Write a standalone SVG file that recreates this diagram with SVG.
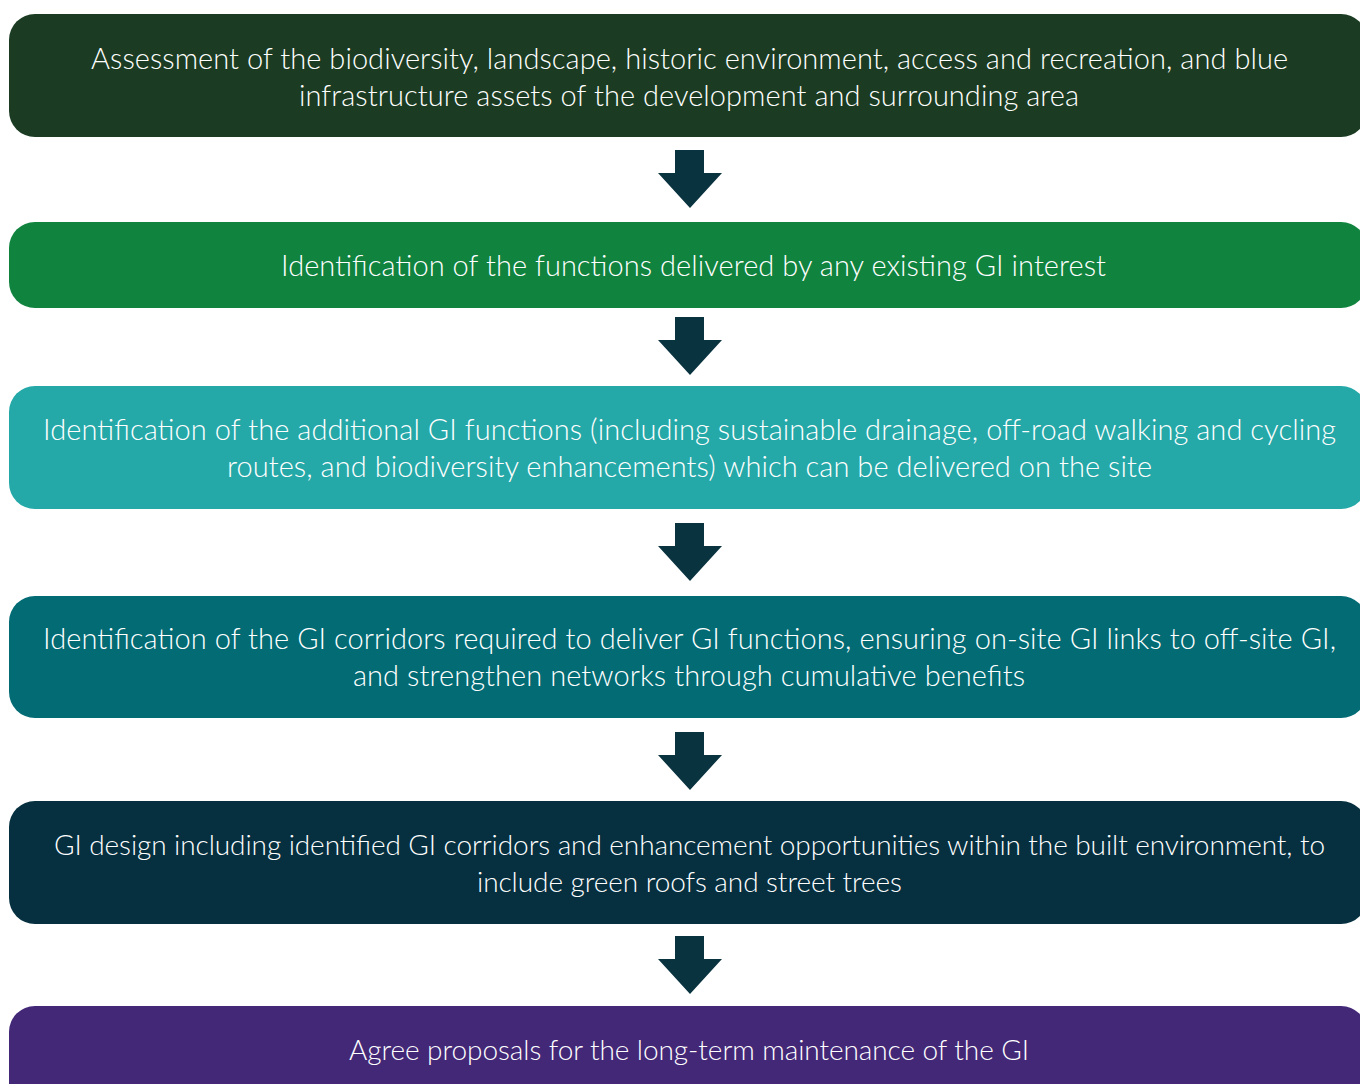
<svg xmlns="http://www.w3.org/2000/svg" width="1360" height="1084" viewBox="0 0 1360 1084">
<style>
.t{font-family:Lato,"Open Sans","Liberation Sans",sans-serif;font-weight:300;font-size:29px;fill:#ffffff;text-anchor:middle}
.s{font-size:28px}
.a{fill:#0a3340}
</style>
<rect width="1360" height="1084" fill="#ffffff"/>
<g id="connectors">
<path class="a" d="M675,150 H704 V173 H722 L690,208 L658,173 H675 Z"/>
<path class="a" d="M675,317 H704 V340 H722 L690,375 L658,340 H675 Z"/>
<path class="a" d="M675,523 H704 V546 H722 L690,581 L658,546 H675 Z"/>
<path class="a" d="M675,732 H704 V755 H722 L690,790 L658,755 H675 Z"/>
<path class="a" d="M675,936 H704 V959 H722 L690,994 L658,959 H675 Z"/>
</g>
<g id="node1">
<rect x="9" y="14" width="1358" height="123" rx="26" fill="#1b3c22"/>
<text class="t" x="689.5" y="69" textLength="1197" lengthAdjust="spacing">Assessment of the biodiversity, landscape, historic environment, access and recreation, and blue</text>
<text class="t" x="689" y="106" textLength="780" lengthAdjust="spacing">infrastructure assets of the development and surrounding area</text>
</g>
<g id="node2">
<rect x="9" y="222" width="1358" height="86" rx="26" fill="#10833f"/>
<text class="t" x="693.5" y="276" textLength="825" lengthAdjust="spacing">Identification of the functions delivered by any existing GI interest</text>
</g>
<g id="node3">
<rect x="9" y="386" width="1358" height="123" rx="26" fill="#25a8a8"/>
<text class="t" x="689.5" y="440" textLength="1293" lengthAdjust="spacing">Identification of the additional GI functions (including sustainable drainage, off-road walking and cycling</text>
<text class="t" x="689.5" y="477" textLength="925" lengthAdjust="spacing">routes, and biodiversity enhancements) which can be delivered on the site</text>
</g>
<g id="node4">
<rect x="9" y="596" width="1358" height="122" rx="26" fill="#026b74"/>
<text class="t" x="689.5" y="649" textLength="1293" lengthAdjust="spacing">Identification of the GI corridors required to deliver GI functions, ensuring on-site GI links to off-site GI,</text>
<text class="t" x="689" y="686" textLength="672" lengthAdjust="spacing">and strengthen networks through cumulative benefits</text>
</g>
<g id="node5">
<rect x="9" y="801" width="1358" height="123" rx="26" fill="#063040"/>
<text class="t s" x="689.5" y="855" textLength="1271" lengthAdjust="spacing">GI design including identified GI corridors and enhancement opportunities within the built environment, to</text>
<text class="t s" x="689.5" y="892" textLength="425" lengthAdjust="spacing">include green roofs and street trees</text>
</g>
<g id="node6">
<rect x="9" y="1006" width="1358" height="110" rx="26" fill="#432877"/>
<text class="t s" x="689" y="1060" textLength="680" lengthAdjust="spacing">Agree proposals for the long-term maintenance of the GI</text>
</g>
</svg>
